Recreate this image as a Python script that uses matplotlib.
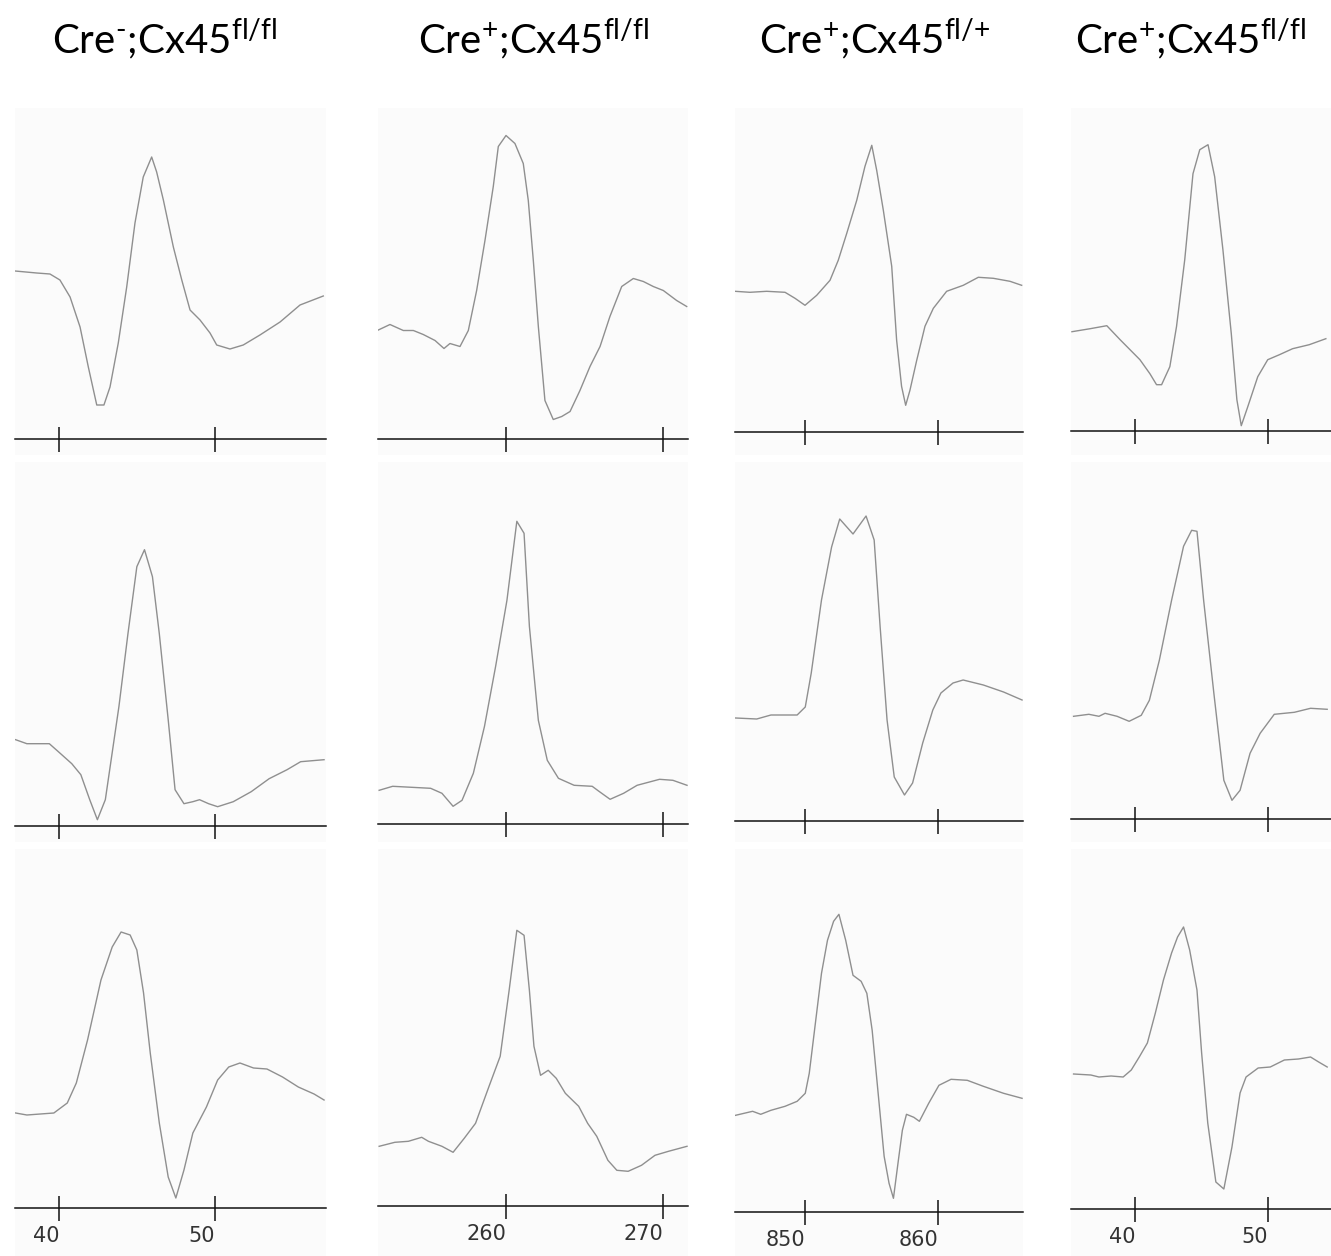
import numpy as np
import matplotlib

matplotlib.use("Agg")
import matplotlib.pyplot as plt

plt.rcParams["mathtext.fontset"] = "custom"
plt.rcParams["mathtext.rm"] = "Lato"
plt.rcParams["mathtext.it"] = "Lato"

W, H = 1331, 1256

# column titles (genotypes)
TITLES = [r"Cre$^{\text{-}}$;Cx45$^{\mathrm{fl/fl}}$", r"Cre$^{{+}}$;Cx45$^{\mathrm{fl/fl}}$",
          r"Cre$^{{+}}$;Cx45$^{\mathrm{fl/}{+}}$", r"Cre$^{{+}}$;Cx45$^{\mathrm{fl/fl}}$"]
TICKS = [(40, 50), (260, 270), (850, 860), (40, 50)]

# waveforms: time (sample units) and amplitude (a.u., 0 = baseline axis)
# row 1
t11 = [37.18, 38.57, 39.42, 40.06, 40.71, 41.35, 41.88, 42.42, 42.88, 43.27, 43.80, 44.34, 44.87,
       45.40, 45.94, 46.26, 46.69, 47.33, 47.87, 48.40, 49.04, 49.68, 50.11, 50.96, 51.81, 52.88,
       54.17, 55.45, 56.94]
v11 = [168, 166, 165, 159, 142, 112, 72, 34, 34, 52, 96, 152, 216, 262, 282, 267, 239, 192, 159,
       129, 119, 106, 94, 90, 94, 104, 117, 134, 143]
t12 = [251.80, 252.61, 253.46, 254.10, 254.73, 255.48, 256.05, 256.43, 257.07, 257.60, 258.13,
       258.66, 259.19, 259.51, 260.00, 260.57, 261.10, 261.42, 261.74, 262.06, 262.48, 263.01,
       263.55, 264.08, 264.71, 265.35, 265.99, 266.62, 267.37, 268.11, 268.75, 269.38, 270.02,
       270.87, 271.51]
v12 = [108, 114, 108, 108, 104, 98, 90, 95, 92, 108, 148, 198, 252, 292, 303, 295, 275, 238, 178,
       112, 38, 19, 22, 27, 48, 72, 92, 122, 152, 160, 157, 152, 148, 138, 132]
t13 = [844.74, 845.86, 847.12, 848.50, 849.25, 850.00, 850.88, 851.88, 852.50, 853.14, 853.89,
       854.51, 855.02, 855.39, 855.89, 856.52, 856.89, 857.26, 857.57, 857.89, 858.40, 859.02,
       859.65, 860.65, 861.90, 863.03, 864.16, 865.41, 866.29]
v13 = [141, 140, 141, 140, 134, 127, 137, 152, 172, 199, 232, 266, 287, 262, 222, 166, 92, 46, 27,
       42, 72, 106, 124, 141, 147, 155, 154, 151, 147]
t14 = [35.26, 36.63, 37.88, 38.88, 40.37, 41.12, 41.62, 42.00, 42.62, 43.12, 43.74, 44.36, 44.87,
       45.49, 45.99, 46.61, 47.24, 47.66, 47.99, 48.48, 49.23, 49.98, 50.86, 51.85, 53.10, 54.35]
v14 = [99, 102, 105, 91, 71, 57, 46, 46, 64, 104, 171, 257, 281, 286, 254, 181, 97, 31, 5, 24, 54,
       71, 76, 82, 86, 92]
# row 2
t21 = [37.22, 37.94, 39.38, 39.96, 40.82, 41.40, 41.97, 42.46, 42.97, 43.84, 44.42, 44.99, 45.48,
       45.99, 46.43, 47.00, 47.44, 48.01, 48.58, 49.01, 49.59, 50.17, 51.17, 52.32, 53.47, 54.62,
       55.49, 56.99]
v21 = [86, 82, 82, 74, 62, 51, 26, 6, 26, 119, 192, 259, 276, 249, 192, 106, 36, 22, 24, 26, 22,
       19, 24, 34, 47, 56, 64, 66]
t22 = [251.92, 252.78, 255.20, 255.92, 256.63, 257.20, 257.92, 258.63, 259.34, 260.06, 260.69,
       261.15, 261.49, 262.06, 262.63, 263.34, 264.34, 265.49, 265.92, 266.63, 267.49, 268.35,
       269.78, 270.63, 271.53]
v22 = [34, 38, 36, 31, 18, 24, 51, 98, 158, 224, 303, 291, 198, 104, 64, 46, 39, 38, 33, 25, 31,
       39, 45, 44, 39]
t23 = [844.78, 846.37, 847.44, 849.41, 850.02, 850.47, 851.24, 852.00, 852.61, 853.61, 854.59,
       855.20, 855.65, 856.17, 856.71, 857.48, 858.09, 858.85, 859.61, 860.22, 861.13, 861.89,
       863.41, 864.93, 866.32]
v23 = [103, 102, 106, 106, 114, 148, 221, 274, 302, 287, 305, 281, 194, 101, 44, 26, 38, 78, 111,
       128, 138, 141, 136, 129, 121]
t24 = [35.38, 36.53, 37.29, 37.75, 38.65, 39.56, 40.47, 41.08, 41.83, 42.75, 43.65, 44.26, 44.66,
       45.16, 45.93, 46.68, 47.29, 47.90, 48.65, 49.41, 50.47, 51.98, 53.20, 54.45]
v24 = [103, 105, 103, 106, 103, 98, 104, 119, 159, 219, 273, 289, 288, 219, 126, 39, 19, 29, 66,
       86, 105, 107, 111, 110]
# row 3
t31 = [37.22, 37.94, 39.67, 40.53, 41.11, 41.83, 42.69, 43.41, 43.98, 44.56, 44.99, 45.42, 45.85,
       46.43, 47.00, 47.49, 48.01, 48.58, 49.45, 50.17, 50.88, 51.60, 52.47, 53.33, 54.33, 55.34,
       56.35, 56.99]
v31 = [95, 93, 95, 105, 125, 168, 228, 261, 276, 273, 258, 215, 155, 85, 31, 10, 38, 75, 101, 128,
       141, 145, 140, 139, 131, 121, 114, 108]
t32 = [251.92, 252.92, 253.78, 254.63, 255.06, 255.92, 256.63, 257.34, 258.06, 258.92, 259.63,
       260.20, 260.69, 261.15, 261.49, 261.78, 262.20, 262.69, 263.20, 263.78, 264.63, 265.20,
       265.78, 266.49, 267.06, 267.78, 268.63, 269.49, 270.35, 271.53]
v32 = [60, 64, 65, 69, 65, 60, 54, 68, 83, 120, 150, 216, 276, 271, 216, 160, 131, 136, 128, 113,
       100, 83, 70, 46, 36, 35, 41, 51, 55, 60]
t33 = [844.78, 846.06, 846.67, 847.44, 848.50, 849.41, 850.02, 850.32, 850.78, 851.24, 851.69,
       852.15, 852.55, 853.06, 853.61, 854.22, 854.65, 855.05, 855.50, 855.95, 856.32, 856.65,
       857.02, 857.32, 857.63, 858.18, 858.60, 859.30, 860.07, 860.98, 862.20, 863.41, 864.93,
       866.32]
v33 = [97, 101, 98, 102, 106, 111, 119, 139, 189, 239, 272, 291, 298, 272, 237, 231, 219, 182,
       119, 56, 29, 14, 52, 82, 98, 95, 91, 109, 127, 133, 132, 126, 119, 114]
t34 = [35.38, 36.68, 37.29, 38.20, 39.11, 39.72, 40.32, 40.93, 41.53, 42.14, 42.75, 43.20, 43.65,
       44.11, 44.66, 45.01, 45.47, 46.08, 46.68, 47.29, 47.90, 48.35, 49.26, 50.17, 51.23, 52.29,
       53.20, 53.81, 54.45]
v34 = [135, 134, 132, 133, 132, 139, 152, 166, 196, 229, 256, 272, 282, 259, 219, 156, 86, 27, 20,
       62, 116, 132, 141, 142, 149, 150, 152, 147, 142]

TRACES = [[(t11, v11), (t12, v12), (t13, v13), (t14, v14)],
          [(t21, v21), (t22, v22), (t23, v23), (t24, v24)],
          [(t31, v31), (t32, v32), (t33, v33), (t34, v34)]]

# layout in pixels
COL_X = [(15, 326), (378, 688), (735, 1023), (1071, 1331)]
TICK_PX = [(59, 215), (506, 663), (805, 938), (1135, 1268)]
ROW_Y = [(108, 455), (462, 842), (849, 1256)]
AXIS_Y = [[439, 438.5, 432.3, 430.7],
          [825.7, 824.3, 821, 819.3],
          [1208, 1206.3, 1212.3, 1209]]
TITLE_X = [165, 533, 875, 1190]

fig = plt.figure(figsize=(W / 100, H / 100), dpi=100)
fig.patch.set_facecolor("white")

for c in range(4):
    fig.text(TITLE_X[c] / W, 1 - 53 / H, TITLES[c], ha="center", va="baseline",
             fontsize=29, family="Lato", color="black")
    l, r = COL_X[c]
    (p0, p1), (k0, k1) = TICK_PX[c], TICKS[c]
    scale = (p1 - p0) / (k1 - k0)
    xlim = (k0 + (l - p0) / scale, k0 + (r - p0) / scale)
    for rr in range(3):
        top, bot = ROW_Y[rr]
        ay = AXIS_Y[rr][c]
        ax = fig.add_axes([l / W, 1 - bot / H, (r - l) / W, (bot - top) / H])
        ax.set_facecolor("#fbfbfb")
        t, v = TRACES[rr][c]
        ax.plot(t, v, color="#8f8f8f", lw=1.0)
        ax.set_xlim(*xlim)
        ax.set_ylim(-(bot - ay), ay - top)
        for s in ("top", "left", "right"):
            ax.spines[s].set_visible(False)
        ax.spines["bottom"].set_position(("data", 0))
        ax.spines["bottom"].set_linewidth(1.1)
        ax.spines["bottom"].set_color("#111111")
        ax.set_yticks([])
        ax.set_xticks(TICKS[c])
        ax.tick_params(axis="x", direction="inout", length=18, width=1.1, color="#111111",
                       labelsize=15, labelcolor="#333333", pad=4)
        if rr == 2:
            ax.set_xticklabels([str(k) for k in TICKS[c]], ha="right", family="DejaVu Sans")
        else:
            ax.set_xticklabels([])

fig.savefig("out.png", dpi=100)
